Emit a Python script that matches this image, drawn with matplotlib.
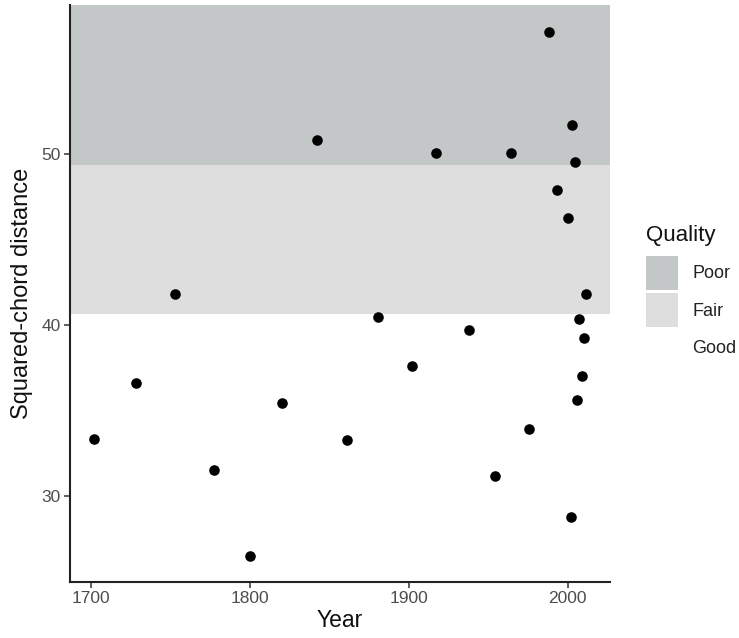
import matplotlib
matplotlib.use("Agg")
import matplotlib.pyplot as plt
from matplotlib.patches import Patch

plt.rcParams['font.family'] = ['Liberation Sans', 'DejaVu Sans']

# Data
years = [1702.1, 1728.5, 1753.0, 1777.4, 1800.2, 1820.5, 1842.3, 1861.2, 1880.9,
         1901.9, 1917.3, 1937.9, 1954.1, 1964.3, 1975.8, 1988.5, 1993.3, 2000.2,
         2001.9, 2002.7, 2004.6, 2006.0, 2007.1, 2009.2, 2010.4, 2011.5]
distance = [33.29, 36.58, 41.81, 31.48, 26.47, 35.40, 50.80, 33.25, 40.43,
            37.58, 50.05, 39.71, 31.15, 50.02, 33.88, 57.10, 47.85, 46.27,
            28.73, 51.71, 49.49, 35.57, 40.35, 37.02, 39.20, 41.81]

quality_labels = ["Poor", "Fair", "Good"]
quality_lower = [49.35, 40.62, None]
quality_colors = ["#c4c7c8", "#dedede", "#ffffff"]

fig = plt.figure(figsize=(7.39, 6.38), dpi=100)
ax = fig.add_axes([70/739, 1-582/638, (610-70)/739, (582-5)/638])

ax.set_xlim(1687.0, 2026.6)
ax.set_ylim(24.95, 58.7)

# Bands
ax.axhspan(quality_lower[0], 100, color=quality_colors[0], lw=0, zorder=0)
ax.axhspan(quality_lower[1], quality_lower[0], color=quality_colors[1], lw=0, zorder=0)

ax.scatter(years, distance, s=58, color="black", zorder=3, linewidths=0)

ax.set_xticks([1700, 1800, 1900, 2000])
ax.set_yticks([30, 40, 50])
ax.tick_params(axis="both", colors="#333333", labelcolor="#4d4d4d",
               labelsize=12.5, length=4, width=1.1, direction="out", pad=2.5)
for s in ["top", "right"]:
    ax.spines[s].set_visible(False)
for s in ["left", "bottom"]:
    ax.spines[s].set_linewidth(1.5)
    ax.spines[s].set_color("#222222")

ax.set_xlabel("Year", fontsize=16.5, color="#111111", labelpad=2)
ax.set_ylabel("Squared-chord distance", fontsize=17, color="#111111", labelpad=6)

# Legend
fig.text(646/739, 1-236/638, "Quality", fontsize=16, color="#111111",
         ha="left", va="center")
handles = [Patch(facecolor=c, edgecolor="none") for c in quality_colors]
leg = fig.legend(handles, quality_labels, loc="upper left",
                 bbox_to_anchor=(646/739, 1-256/638), frameon=False,
                 borderpad=0, borderaxespad=0,
                 fontsize=13, handlelength=1.77,
                 handleheight=2.52, labelspacing=0.17, handletextpad=0.8)
for t in leg.get_texts():
    t.set_color("#222222")

fig.savefig("out.png", dpi=100, facecolor="white")
